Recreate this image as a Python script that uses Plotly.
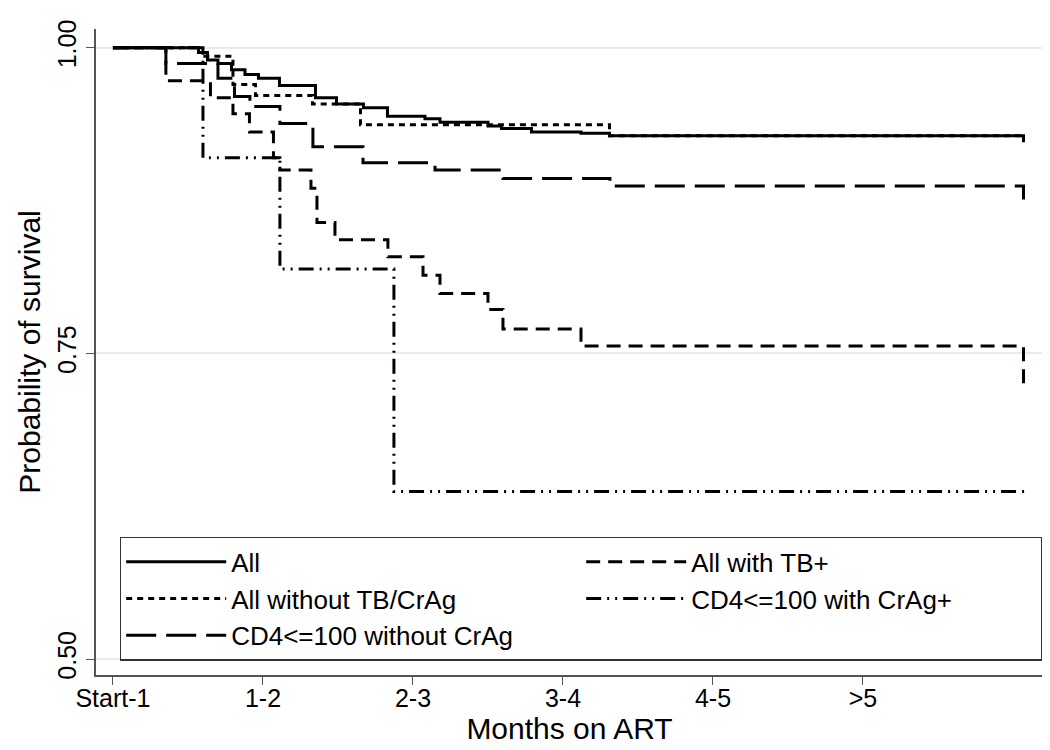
import plotly.graph_objects as go

# months on ART (x=0 is the "Start-1" tick), survival probability
tick_vals = [0, 1, 2, 3, 4, 5]
tick_text = ["Start-1", "1-2", "2-3", "3-4", "4-5", ">5"]

all_t = [0, 0.57, 0.63, 0.70, 0.79, 0.88, 0.97, 1.11, 1.35, 1.49, 1.67, 1.83,
         2.08, 2.18, 2.50, 2.59, 2.79, 3.12, 3.31, 6.07, 6.08]
all_s = [1.0, 0.996, 0.990, 0.987, 0.982, 0.978, 0.975, 0.969, 0.959, 0.954, 0.951,
         0.944, 0.942, 0.939, 0.936, 0.934, 0.931, 0.930, 0.928, 0.924, 0.924]

tb_t = [0, 0.353, 0.65, 0.80, 0.91, 1.07, 1.113, 1.32, 1.36, 1.48, 1.833, 2.067,
        2.18, 2.50, 2.60, 3.12, 6.07, 6.08]
tb_s = [1.0, 0.973, 0.959, 0.946, 0.931, 0.910, 0.900, 0.885, 0.857, 0.843, 0.829,
        0.814, 0.799, 0.786, 0.770, 0.756, 0.721, 0.721]

notb_t = [0, 0.60, 0.80, 0.95, 1.33, 1.65, 3.31, 6.08]
notb_s = [1.0, 0.993, 0.970, 0.961, 0.954, 0.937, 0.928, 0.928]

crag_t = [0, 0.60, 1.113, 1.873, 6.08]
crag_s = [1.0, 0.910, 0.819, 0.637, 0.637]

nocrag_t = [0, 0.353, 0.70, 0.81, 0.913, 1.113, 1.333, 1.667, 2.147, 2.60, 3.313, 6.07, 6.08]
nocrag_s = [1.0, 0.987, 0.975, 0.960, 0.952, 0.938, 0.919, 0.906, 0.900, 0.893, 0.887,
            0.877, 0.877]

series = [
    ("All", all_t, all_s, "solid"),
    ("All with TB+", tb_t, tb_s, "14px,8px"),
    ("All without TB/CrAg", notb_t, notb_s, "6px,5px"),
    ("CD4<=100 with CrAg+", crag_t, crag_s, "15px,6px,2px,6px,2px,6px"),
    ("CD4<=100 without CrAg", nocrag_t, nocrag_s, "30px,10px"),
]

fig = go.Figure()
for name, t, s, dash in series:
    fig.add_trace(go.Scatter(x=t, y=s, name=name, mode="lines", line_shape="hv",
                             line=dict(color="black", width=3, dash=dash)))

font = "Liberation Sans, Arial, Helvetica, sans-serif"
fig.update_layout(
    width=1050, height=750,
    margin=dict(l=88, r=15, t=12, b=83),
    paper_bgcolor="white", plot_bgcolor="white",
    font=dict(family=font, size=25, color="black"),
    legend=dict(orientation="h", xref="paper", yref="paper",
                x=0.025, y=0.214, xanchor="left", yanchor="top",
                itemwidth=100, entrywidth=345, entrywidthmode="pixels",
                bgcolor="white", bordercolor="#333", borderwidth=1.5,
                font=dict(size=26)),
)
fig.update_xaxes(range=[-0.113, 6.2], tickvals=tick_vals, ticktext=tick_text,
                 showgrid=False, zeroline=False, showline=True, linecolor="#555",
                 linewidth=1.5, ticks="outside", ticklen=8, tickcolor="#555",
                 ticklabelstandoff=-8,
                 title=dict(text="Months on ART", standoff=0))
fig.update_yaxes(range=[0.487, 1.0153], tickvals=[0.5, 0.75, 1.0],
                 ticktext=["0.50", "0.75", "1.00"], tickangle=-90,
                 showgrid=True, gridcolor="#e3ecee", gridwidth=1.5, zeroline=False,
                 showline=True, linecolor="#555", linewidth=1.5,
                 ticks="outside", ticklen=8, tickcolor="#555",
                 title=dict(text="Probability of survival", standoff=4))

fig.write_html("out.html")
